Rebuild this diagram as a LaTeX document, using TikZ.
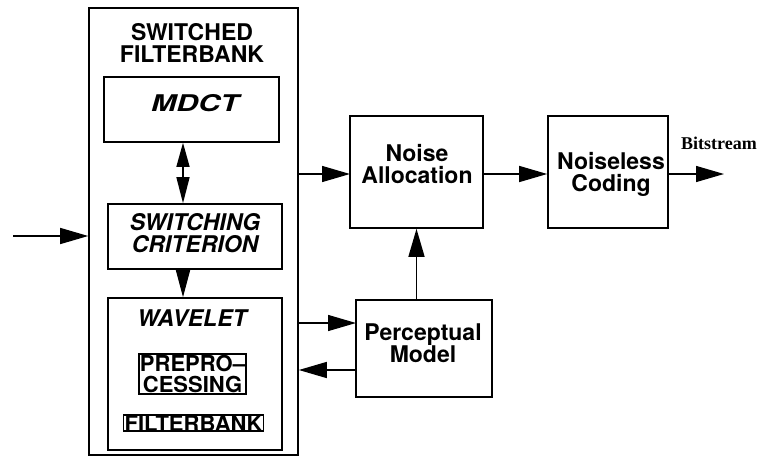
\documentclass[tikz,border=0pt]{standalone}
\usepackage{fontspec}
\usepackage{graphicx}
\setmainfont{TeX Gyre Heros}
\newfontfamily\tms{Liberation Serif}
\usetikzlibrary{arrows.meta}
\tikzset{
  box/.style={draw, line width=1.6pt, inner sep=0pt},
  lbl/.style={font=\fontsize{23}{22}\selectfont\bfseries, align=center, inner sep=0pt},
  ilbl/.style={font=\fontsize{23}{22}\selectfont\bfseries\itshape, align=center, inner sep=0pt},
  tagbox/.style={draw, line width=1.8pt, inner sep=1.2pt, font=\fontsize{22}{21.5}\selectfont\bfseries, align=center},
  flow/.style={line width=1.4pt, -{Triangle[length=28pt,width=16pt]}},
  vflow/.style={line width=1.4pt, -{Triangle[length=27pt,width=14pt]}},
  dflow/.style={line width=1.4pt, {Triangle[length=24pt,width=13pt]}-{Triangle[length=26pt,width=13pt]}}
}
\begin{document}
\begin{tikzpicture}[x=1pt,y=-1pt]
\useasboundingbox (0,0) rectangle (758,458);

% switched filterbank and its inner blocks
\node[box, minimum width=209pt, minimum height=447pt] (outer) at (193.5,231.5) {};
\node[lbl] (ttl) at (192,43) {SWITCHED\\FILTERBANK};
\node[box, minimum width=175pt, minimum height=65pt] (mdct) at (191.5,109.5) {};
\node[ilbl] (tmdct) at (195,103) {\scalebox{1.32}[1]{MDCT}};
\node[box, minimum width=174pt, minimum height=65pt] (sc) at (195,236.5) {};
\node[ilbl] (tsc) at (195,233) {SWITCHING\\CRITERION};
\node[box, minimum width=174pt, minimum height=152pt] (wv) at (195,374) {};
\node[ilbl] (twv) at (192,318) {WAVELET};
\node[tagbox] (pre) at (192.5,374) {PREPRO--\\CESSING};
\node[tagbox, inner ysep=0.3pt] (fb) at (193.5,423) {FILTERBANK};

% coding blocks
\node[box, minimum width=133pt, minimum height=112pt] (na) at (416.5,172) {};
\node[lbl] (tna) at (417,164) {Noise\\Allocation};
\node[box, minimum width=120pt, minimum height=112pt] (nc) at (608,172) {};
\node[lbl] (tnc) at (611,174) {Noiseless\\Coding};
\node[box, minimum width=136pt, minimum height=97pt] (pm) at (424,348.5) {};
\node[lbl] (tpm) at (423,343) {Perceptual\\Model};
\node[font=\tms\fontsize{18}{19}\selectfont\bfseries, inner sep=0pt] (bits) at (719,143) {Bitstream};

% connectors
\coordinate (in) at (13,236);
\coordinate (out) at (724,174);
\coordinate (toNA) at (350,174);
\coordinate (toPM) at (356,323);
\coordinate (fromPM) at (356,370);
\coordinate (lnk) at (183,0);

\draw[flow] (in) -- (in -| outer.west);
\draw[flow] (toNA -| outer.east) -- (toNA);
\draw[flow] (toNA) ++(133,0) coordinate (naR) (naR) -- (naR -| nc.west);
\draw[flow] (nc.east |- out) -- (out);
\draw[flow] (toPM -| outer.east) -- (toPM);
\draw[flow] (fromPM) -- (fromPM -| outer.east);
\draw[flow] (na.south |- pm.north) -- (na.south);
\draw[dflow] (lnk |- mdct.south) -- (lnk |- sc.north);
\draw[vflow] (lnk |- sc.south) -- (lnk |- wv.north);
\end{tikzpicture}
\end{document}
